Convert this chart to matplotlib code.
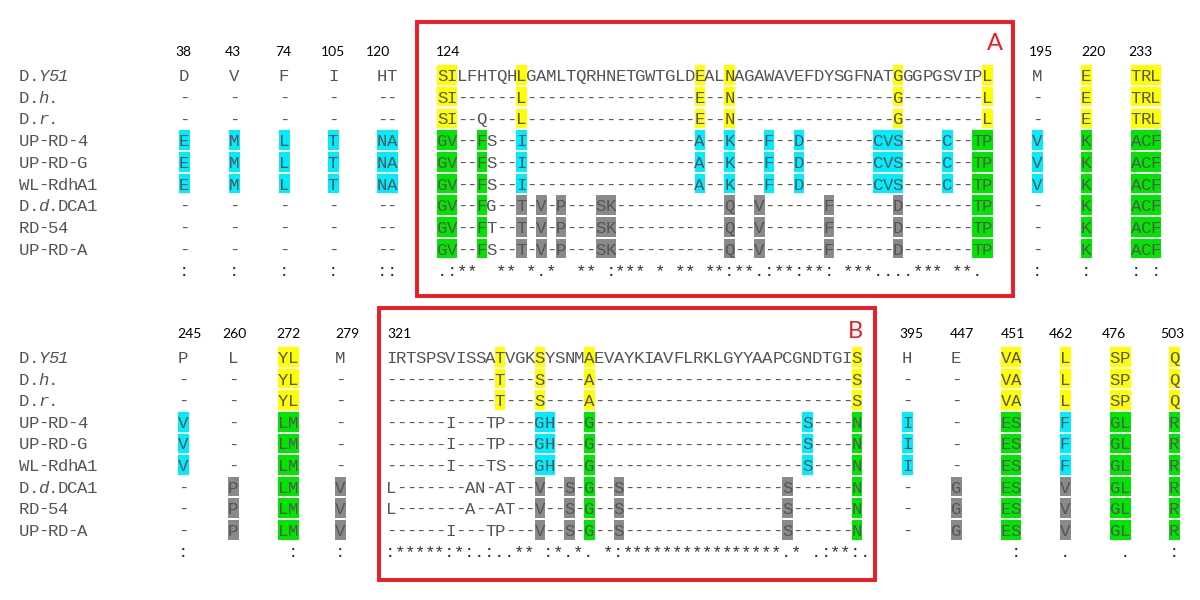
import matplotlib.pyplot as plt
from matplotlib.patches import Rectangle

# strains (rows of both blocks)
names = ['D.Y51', 'D.h.', 'D.r.', 'UP-RD-4', 'UP-RD-G', 'WL-RdhA1',
         'D.d.DCA1', 'RD-54', 'UP-RD-A']
name_italic = ['..iii', '..i.', '..i.', '', '', '', '..i.....', '', '']

# single positions: (header, residue per strain, colour per strain, conservation)
# colour codes: y yellow, c cyan, g green, k grey, . none
top_left = [
    ('38', ['D', '-', '-', 'E', 'E', 'E', '-', '-', '-'], '...ccc...', ':'),
    ('43', ['V', '-', '-', 'M', 'M', 'M', '-', '-', '-'], '...ccc...', ':'),
    ('74', ['F', '-', '-', 'L', 'L', 'L', '-', '-', '-'], '...ccc...', ':'),
    ('105', ['I', '-', '-', 'T', 'T', 'T', '-', '-', '-'], '...ccc...', ':'),
    ('120', ['HT', '--', '--', 'NA', 'NA', 'NA', '--', '--', '--'], '...ccc...', '::'),
]
top_right = [
    ('195', ['M', '-', '-', 'V', 'V', 'V', '-', '-', '-'], '...ccc...', ':'),
    ('220', ['E', 'E', 'E', 'K', 'K', 'K', 'K', 'K', 'K'], 'yyygggggg', ':'),
    ('233', ['TRL', 'TRL', 'TRL', 'ACF', 'ACF', 'ACF', 'ACF', 'ACF', 'ACF'], 'yyygggggg', ': :'),
]
bottom_left = [
    ('245', ['P', '-', '-', 'V', 'V', 'V', '-', '-', '-'], '...ccc...', ':'),
    ('260', ['L', '-', '-', '-', '-', '-', 'P', 'P', 'P'], '......kkk', ''),
    ('272', ['YL', 'YL', 'YL', 'LM', 'LM', 'LM', 'LM', 'LM', 'LM'], 'yyygggggg', ' :'),
    ('279', ['M', '-', '-', '-', '-', '-', 'V', 'V', 'V'], '......kkk', ':'),
]
bottom_right = [
    ('395', ['H', '-', '-', 'I', 'I', 'I', '-', '-', '-'], '...ccc...', ''),
    ('447', ['E', '-', '-', '-', '-', '-', 'G', 'G', 'G'], '......kkk', ''),
    ('451', ['VA', 'VA', 'VA', 'ES', 'ES', 'ES', 'ES', 'ES', 'ES'], 'yyygggggg', ' :'),
    ('462', ['L', 'L', 'L', 'F', 'F', 'F', 'V', 'V', 'V'], 'yyyccckkk', '.'),
    ('476', ['SP', 'SP', 'SP', 'GL', 'GL', 'GL', 'GL', 'GL', 'GL'], 'yyygggggg', ' .'),
    ('503', ['Q', 'Q', 'Q', 'R', 'R', 'R', 'R', 'R', 'R'], 'yyygggggg', ':'),
]

# region A, starting at residue 124
seq_a = [
    'SILFHTQHLGAMLTQRHNETGWTGLDEALNAGAWAVEFDYSGFNATGGGPGSVIPL',
    'SI------L-----------------E--N----------------G--------L',
    'SI--Q---L-----------------E--N----------------G--------L',
    'GV--FS--I-----------------A--K---F--D-------CVS----C--TP',
    'GV--FS--I-----------------A--K---F--D-------CVS----C--TP',
    'GV--FS--I-----------------A--K---F--D-------CVS----C--TP',
    'GV--FG--T-V-P---SK-----------Q--V------F------D-------TP',
    'GV--FT--T-V-P---SK-----------Q--V------F------D-------TP',
    'GV--FS--T-V-P---SK-----------Q--V------F------D-------TP',
]
hl_a = [
    {'y': [0, 1, 8, 26, 29, 46, 55]},
    {'y': [0, 1, 8, 26, 29, 46, 55]},
    {'y': [0, 1, 8, 26, 29, 46, 55]},
    {'g': [0, 1, 4, 54, 55], 'c': [8, 26, 29, 33, 36, 44, 45, 46, 51]},
    {'g': [0, 1, 4, 54, 55], 'c': [8, 26, 29, 33, 36, 44, 45, 46, 51]},
    {'g': [0, 1, 4, 54, 55], 'c': [8, 26, 29, 33, 36, 44, 45, 46, 51]},
    {'g': [0, 1, 4, 54, 55], 'k': [8, 10, 12, 16, 17, 29, 32, 39, 46]},
    {'g': [0, 1, 4, 54, 55], 'k': [8, 10, 12, 16, 17, 29, 32, 39, 46]},
    {'g': [0, 1, 4, 54, 55], 'k': [8, 10, 12, 16, 17, 29, 32, 39, 46]},
]
cons_a = '.:**  ** *.*  ** :*** * ** **:**.:**:**: ***....*** **. '

# region B, starting at residue 321
seq_b = [
    'IRTSPSVISSATVGKSYSNMAEVAYKIAVFLRKLGYYAAPCGNDTGIS',
    '-----------T---S----A--------------------------S',
    '-----------T---S----A--------------------------S',
    '------I---TP---GH---G---------------------S----N',
    '------I---TP---GH---G---------------------S----N',
    '------I---TS---GH---G---------------------S----N',
    'L-------AN-AT--V--S-G--S----------------S------N',
    'L-------A--AT--V--S-G--S----------------S------N',
    '------I---TP---V--S-G--S----------------S------N',
]
hl_b = [
    {'y': [11, 15, 20, 47]},
    {'y': [11, 15, 20, 47]},
    {'y': [11, 15, 20, 47]},
    {'c': [15, 16, 42], 'g': [20, 47]},
    {'c': [15, 16, 42], 'g': [20, 47]},
    {'c': [15, 16, 42], 'g': [20, 47]},
    {'k': [15, 18, 23, 40], 'g': [20, 47]},
    {'k': [15, 18, 23, 40], 'g': [20, 47]},
    {'k': [15, 18, 23, 40], 'g': [20, 47]},
]
cons_b = ':*****:*:.:..** :*.*. *:****************.* .:**:.'

for s in seq_a:
    assert len(s) == 56, s
for s in seq_b:
    assert len(s) == 48, s

colours = {'y': '#ffff00', 'c': '#00ecff', 'g': '#00e600', 'k': '#8a8a8a'}
MONO = 'Liberation Mono'
FS = 12.5
TXT = '#555555'
CELL_H = 19.5

fig = plt.figure(figsize=(12, 6), dpi=100)
ax = fig.add_axes([0, 0, 1, 1])
ax.set_xlim(0, 1200)
ax.set_ylim(600, 0)
ax.axis('off')


def residue(x, y, ch, code, w):
    if code in colours:
        ax.add_patch(Rectangle((x - w / 2, y - CELL_H / 2), w + 0.5, CELL_H,
                               color=colours[code], lw=0, zorder=1))
    ax.text(x, y, ch, family=MONO, size=FS, color=TXT, ha='center',
            va='center_baseline', zorder=2)


def header(x, y, label):
    ax.text(x, y, label, family='Lato', size=10, color='black',
            ha='center', va='center')


def groups(gs, xs, hxs, rows_y, head_y):
    for (lab, res, cols, cons), x0, hx in zip(gs, xs, hxs):
        header(hx, head_y, lab)
        for i, y in enumerate(rows_y):
            for k, ch in enumerate(res[i]):
                residue(x0 + 9.8 * k, y, ch, cols[i], 10.4)
        for k, ch in enumerate(cons):
            ax.text(x0 + 9.8 * k, rows_y[-1] + 21.6, ch, family=MONO, size=FS,
                    color='#333333', ha='center', va='center_baseline')


def boxed(seqs, hls, cons, x0, dx, cx0, cdx, rows_y):
    for i, y in enumerate(rows_y):
        code = {}
        for c, idx in hls[i].items():
            for j in idx:
                code[j] = c
        for j, ch in enumerate(seqs[i]):
            residue(x0 + dx * j, y, ch, code.get(j, '.'), dx)
    for j, ch in enumerate(cons):
        ax.text(cx0 + cdx * j, rows_y[-1] + 21.6, ch, family=MONO, size=FS,
                color='#333333', ha='center', va='center_baseline')


def names_col(rows_y):
    for i, y in enumerate(rows_y):
        for k, ch in enumerate(names[i]):
            it = k < len(name_italic[i]) and name_italic[i][k] == 'i'
            ax.text(24 + 9.7 * k, y, ch, family=MONO, size=FS, color=TXT,
                    style='italic' if it else 'normal', ha='center',
                    va='center_baseline')


# top block
top_y = [75 + 21.7 * i for i in range(9)]
names_col(top_y)
groups(top_left, [184, 234, 284, 333, 382], [183, 233, 283, 333, 378], top_y, 52)
groups(top_right, [1037, 1086, 1136], [1041, 1093, 1140], top_y, 52)
header(448, 52, '124')
boxed(seq_a, hl_a, cons_a, 442, 9.91, 442, 9.91, top_y)
ax.add_patch(Rectangle((417, 22), 596, 274, fill=False, ec='#ec1c24', lw=2.8))
ax.text(995, 44, 'A', family='Lato', size=17, color='#ec1c24', ha='center', va='center')

# bottom block
bot_y = [357 + 21.6 * i for i in range(9)]
names_col(bot_y)
groups(bottom_left, [183, 233, 283, 340], [189, 234, 288, 347], bot_y, 334)
groups(bottom_right, [907, 956, 1006, 1065, 1115, 1174],
       [911, 962, 1013, 1061, 1114, 1172], bot_y, 334)
header(400, 334, '321')
boxed(seq_b, hl_b, cons_b, 391, 9.91, 390, 9.9, bot_y)
ax.add_patch(Rectangle((379, 308), 496, 272, fill=False, ec='#ec1c24', lw=2.8))
ax.text(855, 331, 'B', family='Lato', size=17, color='#ec1c24', ha='center', va='center')

plt.savefig('out.png', dpi=100)
